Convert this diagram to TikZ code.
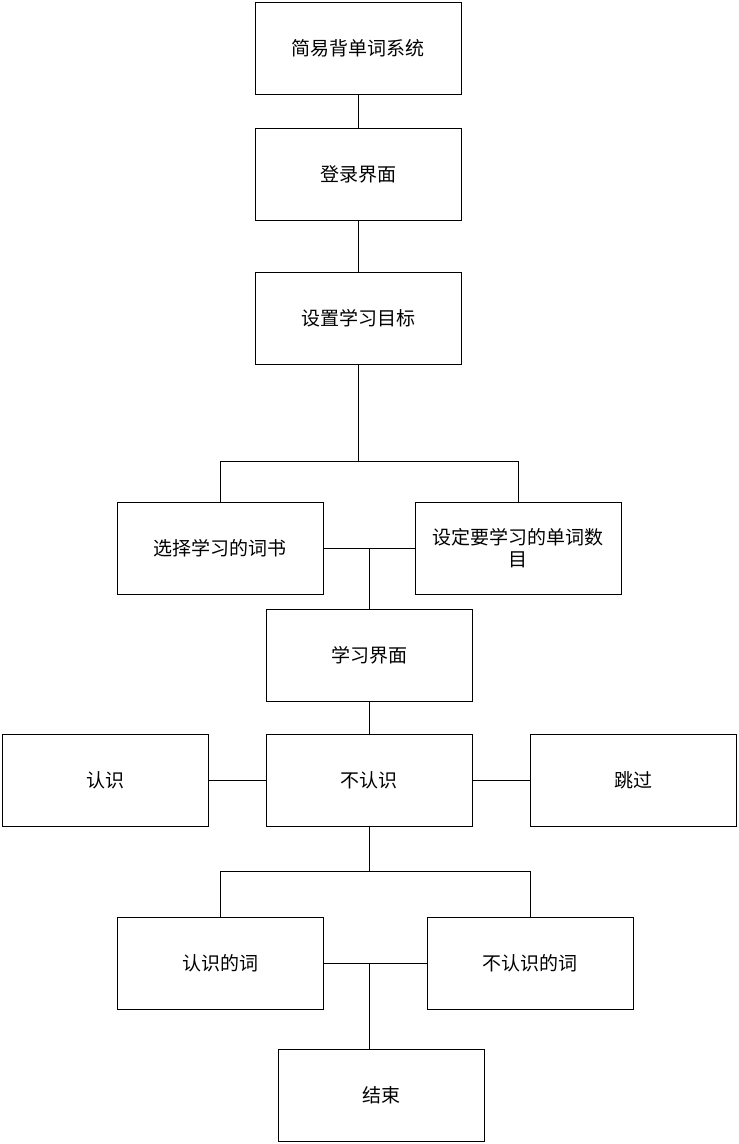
\documentclass[tikz,border=0pt]{standalone}
\usepackage{fontspec}
\newfontfamily\cjk{Noto Sans CJK SC}
\begin{document}
\begin{tikzpicture}[x=1pt,y=-1pt,line width=1pt,
  box/.style={draw,minimum width=206pt,minimum height=92pt,inner sep=0pt,
    font=\cjk\fontsize{19}{22}\selectfont,align=center,text width=182pt},
  link/.style={draw,line width=1pt}]
\useasboundingbox (0,0) rectangle (739,1144);
\node[box] (A) at (358,48.5) {简易背单词系统};
\node[box] (B) at (358,174) {登录界面};
\node[box] (C) at (358,318) {设置学习目标};
\node[box] (D) at (220,548) {选择学习的词书};
\node[box] (E) at (518,548) {设定要学习的单词数\\目};
\node[box] (F) at (369,655) {学习界面};
\node[box] (G) at (105.5,780) {认识};
\node[box] (H) at (369,780) {不认识};
\node[box] (I) at (633,780) {跳过};
\node[box] (J) at (220,963) {认识的词};
\node[box] (K) at (530,963) {不认识的词};
\node[box] (L) at (381,1095) {结束};
\coordinate (c1) at (358,461);
\coordinate (d1) at (369,548);
\coordinate (h1) at (369,871);
\coordinate (j1) at (369,963);
\draw[link] (A) -- (B);
\draw[link] (B) -- (C);
\draw[link] (C.south) -- (c1);
\draw[link] (c1) -| (D.north);
\draw[link] (c1) -| (E.north);
\draw[link] (D.east) -- (E.west);
\draw[link] (d1) -- (F.north);
\draw[link] (F) -- (H);
\draw[link] (G) -- (H);
\draw[link] (H) -- (I);
\draw[link] (H.south) -- (h1);
\draw[link] (h1) -| (J.north);
\draw[link] (h1) -| (K.north);
\draw[link] (J.east) -- (K.west);
\draw[link] (j1) -- (j1 |- L.north);
\end{tikzpicture}
\end{document}
